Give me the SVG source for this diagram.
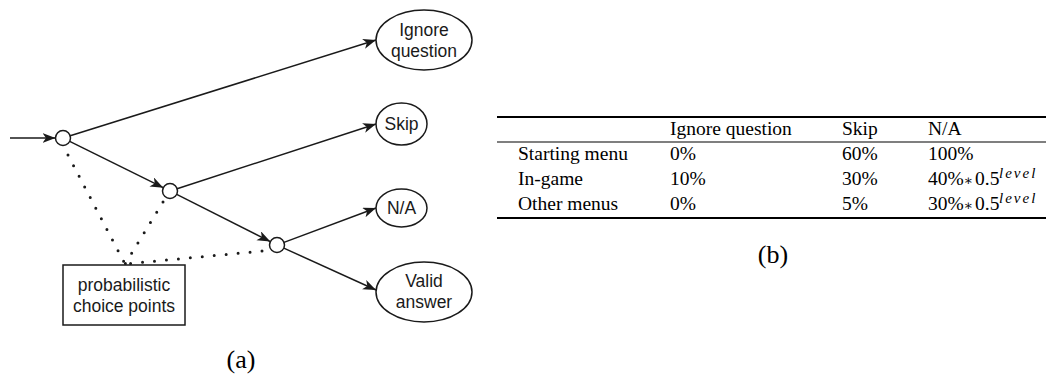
<svg xmlns="http://www.w3.org/2000/svg" width="1046" height="382" viewBox="0 0 1046 382">
<style>
.node{fill:#fff;stroke:#1a1a1a;stroke-width:1.5}
.edge{fill:none;stroke:#1a1a1a;stroke-width:1.5}
.dot{fill:none;stroke:#1a1a1a;stroke-width:3;stroke-linecap:round;stroke-dasharray:0 12}
.lbl{font-family:"Liberation Sans",Arial,sans-serif;font-size:17.5px;fill:#1a1a1a;text-anchor:middle}
.tb{font-family:"Liberation Serif","Times New Roman",serif;font-size:19.5px;fill:#000}
.ast{font-family:"DejaVu Serif","Liberation Serif",serif;font-size:14px;fill:#000;text-anchor:middle}
.sup{font-family:"Liberation Serif","Times New Roman",serif;font-size:15px;font-style:italic;fill:#000;letter-spacing:2px}
.cap{font-family:"Liberation Serif","Times New Roman",serif;font-size:26px;fill:#000;text-anchor:middle}
.rule{stroke:#000}
</style>
<defs>
<marker id="arr" markerUnits="userSpaceOnUse" markerWidth="14" markerHeight="12" refX="13" refY="5" orient="auto">
<path d="M0,0 L13,5 L0,10 L3.5,5 Z" fill="#1a1a1a"/>
</marker>
</defs>
<rect width="1046" height="382" fill="#fff"/>
<g id="connectors">
<line class="edge" x1="10" y1="138" x2="55.5" y2="138" marker-end="url(#arr)"/>
<line class="edge" x1="70.2" y1="135.8" x2="376" y2="40" marker-end="url(#arr)"/>
<line class="edge" x1="69.7" y1="141.3" x2="163.3" y2="187.7" marker-end="url(#arr)"/>
<line class="edge" x1="177.1" y1="188.7" x2="376" y2="124" marker-end="url(#arr)"/>
<line class="edge" x1="176.7" y1="194.4" x2="270.3" y2="241.6" marker-end="url(#arr)"/>
<line class="edge" x1="284" y1="242.4" x2="376" y2="208" marker-end="url(#arr)"/>
<line class="edge" x1="283.8" y1="248.1" x2="376" y2="290" marker-end="url(#arr)"/>
<line class="dot" x1="68" y1="155" x2="125" y2="264"/>
<line class="dot" x1="163" y1="202" x2="125" y2="264"/>
<line class="dot" x1="262" y1="251" x2="125" y2="264"/>
</g>
<g id="c1"><circle class="node" cx="63" cy="138" r="7.5"/></g>
<g id="c2"><circle class="node" cx="170" cy="191" r="7.5"/></g>
<g id="c3"><circle class="node" cx="277" cy="245" r="7.5"/></g>
<g id="ignore"><ellipse class="node" cx="424" cy="40" rx="48" ry="30"/><text class="lbl" x="424" y="36">Ignore</text><text class="lbl" x="424" y="57">question</text></g>
<g id="skip"><ellipse class="node" cx="401.5" cy="124" rx="25.5" ry="21"/><text class="lbl" x="401.5" y="130">Skip</text></g>
<g id="na"><ellipse class="node" cx="401.5" cy="208" rx="25.5" ry="19"/><text class="lbl" x="401.5" y="214">N/A</text></g>
<g id="valid"><ellipse class="node" cx="424" cy="292" rx="48" ry="30"/><text class="lbl" x="424" y="287">Valid</text><text class="lbl" x="424" y="308">answer</text></g>
<g id="choice"><rect class="node" x="63" y="265" width="122" height="60"/><text class="lbl" x="124" y="291">probabilistic</text><text class="lbl" x="124" y="312">choice points</text></g>
<text class="cap" x="241" y="368">(a)</text>
<g id="table">
<line class="rule" x1="497" y1="117" x2="1046" y2="117" stroke-width="2"/>
<line class="rule" x1="497" y1="142" x2="1046" y2="142" stroke-width="1.2"/>
<line class="rule" x1="497" y1="218" x2="1046" y2="218" stroke-width="2"/>
<text class="tb" x="670" y="135">Ignore question</text>
<text class="tb" x="842" y="135">Skip</text>
<text class="tb" x="928" y="135">N/A</text>
<text class="tb" x="518" y="160">Starting menu</text>
<text class="tb" x="670" y="160">0%</text>
<text class="tb" x="842" y="160">60%</text>
<text class="tb" x="928" y="160">100%</text>
<text class="tb" x="518" y="185">In-game</text>
<text class="tb" x="670" y="185">10%</text>
<text class="tb" x="842" y="185">30%</text>
<text class="tb" x="928" y="185">40%</text><text class="ast" x="968.5" y="185">∗</text><text class="tb" x="975" y="185">0.5</text><text class="sup" x="999" y="178">level</text>
<text class="tb" x="518" y="210">Other menus</text>
<text class="tb" x="670" y="210">0%</text>
<text class="tb" x="842" y="210">5%</text>
<text class="tb" x="928" y="210">30%</text><text class="ast" x="968.5" y="210">∗</text><text class="tb" x="975" y="210">0.5</text><text class="sup" x="999" y="203">level</text>
<text class="cap" x="773" y="263">(b)</text>
</g>
</svg>
